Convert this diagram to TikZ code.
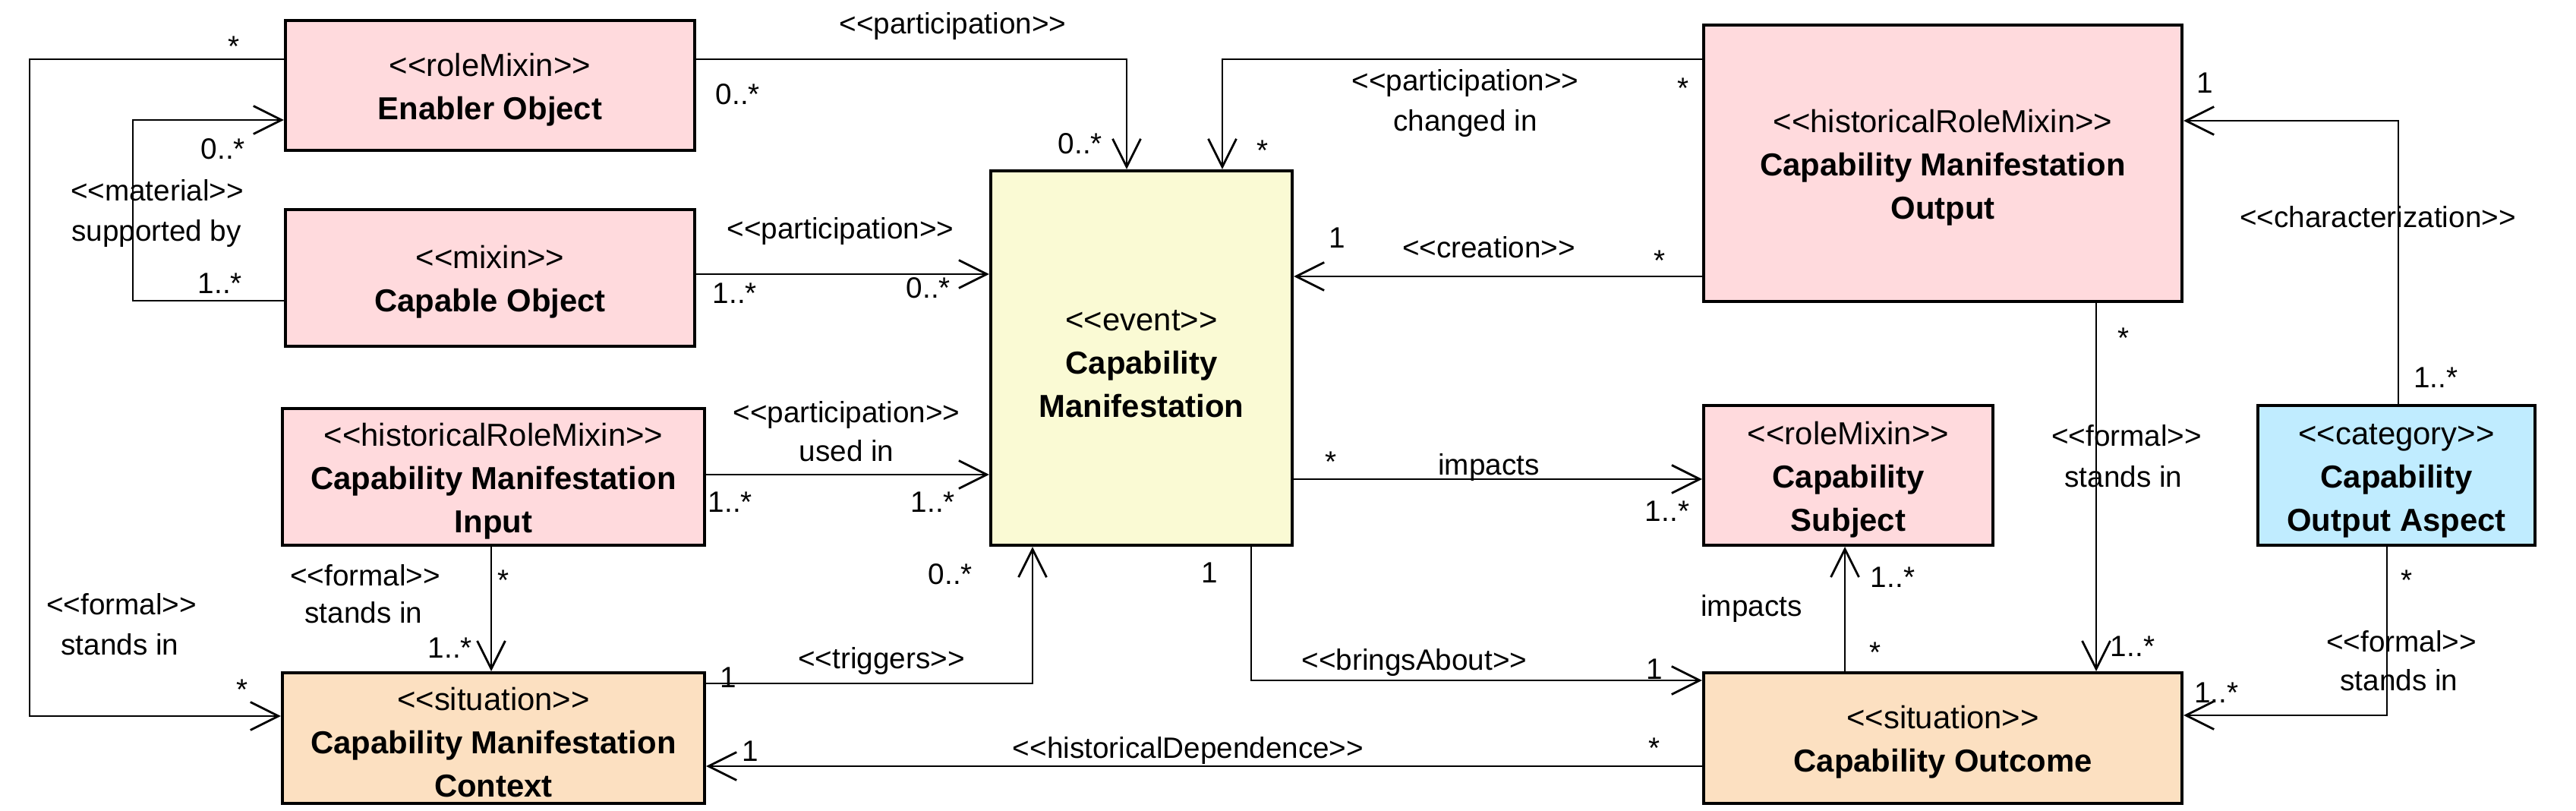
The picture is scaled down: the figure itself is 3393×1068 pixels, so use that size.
\documentclass[tikz,border=0pt]{standalone}
\usepackage{fontspec}
\setmainfont{Liberation Sans}[Ligatures=TeXOff]
\usetikzlibrary{arrows.meta}
\definecolor{rolepink}{RGB}{255,218,221}
\definecolor{eventyellow}{RGB}{250,250,212}
\definecolor{sitpeach}{RGB}{252,224,193}
\definecolor{catblue}{RGB}{192,236,255}
\newcommand\clsstrut{\rule{0pt}{11.8pt}}
\begin{document}
\begin{tikzpicture}[x=0.01cm,y=-0.01cm,
  cls/.style={draw=black, line width=1.1pt, inner sep=0pt, align=center,
    font=\fontsize{11.9pt}{16.2pt}\selectfont},
  lbl/.style={inner sep=0pt, font=\fontsize{11pt}{13pt}\selectfont,
    text height=0.72em, text depth=0.2em},
  assoc/.style={line width=0.8pt, -{Straight Barb[length=10.5pt,width=10.5pt]}}]
\useasboundingbox (0,0) rectangle (3393,1068);
\fill[white] (0,0) rectangle (3393,1068);

% classes
\node[cls, fill=rolepink, minimum width=5.39cm, minimum height=1.71cm] (enabler) at (645.5,112.5)
  {\clsstrut<<roleMixin>>\\\textbf{Enabler Object}};
\node[cls, fill=rolepink, minimum width=5.39cm, minimum height=1.80cm] (capable) at (645.5,366)
  {\clsstrut<<mixin>>\\\textbf{Capable Object}};
\node[cls, fill=rolepink, minimum width=5.56cm, minimum height=1.80cm] (input) at (650,628)
  {\clsstrut<<historicalRoleMixin>>\\\textbf{Capability Manifestation}\\\textbf{Input}};
\node[cls, fill=sitpeach, minimum width=5.56cm, minimum height=1.72cm] (context) at (650,972)
  {\clsstrut<<situation>>\\\textbf{Capability Manifestation}\\\textbf{Context}};
\node[cls, fill=eventyellow, minimum width=3.97cm, minimum height=4.93cm] (event) at (1503.5,471.5)
  {\clsstrut<<event>>\\\textbf{Capability}\\\textbf{Manifestation}};
\node[cls, fill=rolepink, minimum width=6.30cm, minimum height=3.64cm] (output) at (2559,215)
  {\clsstrut<<historicalRoleMixin>>\\\textbf{Capability Manifestation}\\\textbf{Output}};
\node[cls, fill=rolepink, minimum width=3.81cm, minimum height=1.84cm] (subject) at (2434.5,626)
  {\clsstrut<<roleMixin>>\\\textbf{Capability}\\\textbf{Subject}};
\node[cls, fill=catblue, minimum width=3.65cm, minimum height=1.84cm] (aspect) at (3156.5,626)
  {\clsstrut<<category>>\\\textbf{Capability}\\\textbf{Output Aspect}};
\node[cls, fill=sitpeach, minimum width=6.30cm, minimum height=1.72cm] (outcome) at (2559,972)
  {\clsstrut<<situation>>\\\textbf{Capability Outcome}};

% bend points and levels
\coordinate (b1) at (39,78);
\coordinate (b2) at (39,943);
\coordinate (m1) at (175,396);
\coordinate (m2) at (175,158);
\coordinate (p1) at (1484,78);
\coordinate (p2) at (1610,78);
\coordinate (t1) at (1360,900);
\coordinate (ba) at (1648,896);
\coordinate (ch) at (3159,159);
\coordinate (fa) at (3144,942);
\coordinate (kcap) at (1000,361);
\coordinate (kin) at (1000,625);
\coordinate (kcr) at (2000,364);
\coordinate (kim) at (2000,631);
\coordinate (khd) at (1500,1009);
\coordinate (kf1) at (647,0);
\coordinate (kim2) at (2430,0);
\coordinate (kf2) at (2761,0);

% connectors
\draw[assoc] (enabler.west |- b1) -- (b1) -- (b2) -- (context.west |- b2);
\draw[assoc] (capable.west |- m1) -- (m1) -- (m2) -- (enabler.west |- m2);
\draw[assoc] (enabler.east |- p1) -- (p1) -- (event.north -| p1);
\draw[assoc] (output.west |- p2) -- (p2) -- (event.north -| p2);
\draw[assoc] (capable.east |- kcap) -- (event.west |- kcap);
\draw[assoc] (input.east |- kin) -- (event.west |- kin);
\draw[assoc] (output.west |- kcr) -- (event.east |- kcr);
\draw[assoc] (event.east |- kim) -- (subject.west |- kim);
\draw[assoc] (outcome.west |- khd) -- (context.east |- khd);
\draw[assoc] (input.south -| kf1) -- (context.north -| kf1);
\draw[assoc] (outcome.north -| kim2) -- (subject.south -| kim2);
\draw[assoc] (output.south -| kf2) -- (outcome.north -| kf2);
\draw[assoc] (context.east |- t1) -- (t1) -- (event.south -| t1);
\draw[assoc] (event.south -| ba) -- (ba) -- (outcome.west |- ba);
\draw[assoc] (aspect.north -| ch) -- (ch) -- (output.east |- ch);
\draw[assoc] (aspect.south -| fa) -- (fa) -- (outcome.east |- fa);

% labels: top
\node[lbl] (s1) at (308,65) {*};
\node[lbl] (n1) at (972,128) {0..*};
\node[lbl] (a1) at (1255,35) {<<participation>>};
\node[lbl] (n2) at (1423,193) {0..*};
\node[lbl] (s2) at (1663,202) {*};
\node[lbl] (a2) at (1930,110) {<<participation>>};
\node[lbl] (a3) at (1930,163) {changed in};
\node[lbl] (s3) at (2217,120) {*};
\node[lbl] (n3) at (2904,113) {1};
\node[lbl] (a4) at (3132,290) {<<characterization>>};
\node[lbl] (n4) at (3208,501) {1..*};
\node[lbl] (n5) at (294,200) {0..*};
\node[lbl] (a5) at (207,255) {<<material>>};
\node[lbl] (a6) at (206,308) {supported by};
\node[lbl] (n6) at (290,377) {1..*};
\node[lbl] (a7) at (1107,305) {<<participation>>};
\node[lbl] (n7) at (968,390) {1..*};
\node[lbl] (n8) at (1223,383) {0..*};
\node[lbl] (n9) at (1761,317) {1};
\node[lbl] (a8) at (1961,330) {<<creation>>};
\node[lbl] (s4) at (2186,347) {*};
\node[lbl] (s5) at (2797,449) {*};
% labels: middle
\node[lbl] (a9) at (1115,547) {<<participation>>};
\node[lbl] (a10) at (1115,598) {used in};
\node[lbl] (n10) at (962,665) {1..*};
\node[lbl] (n11) at (1229,665) {1..*};
\node[lbl] (s6) at (1753,612) {*};
\node[lbl] (a11) at (1961,616) {impacts};
\node[lbl] (n12) at (2196,677) {1..*};
\node[lbl] (a12) at (2801,578) {<<formal>>};
\node[lbl] (a13) at (2797,632) {stands in};
\node[lbl] (s7) at (663,768) {*};
\node[lbl] (a14) at (481,762) {<<formal>>};
\node[lbl] (a15) at (479,811) {stands in};
\node[lbl] (n13) at (593,857) {1..*};
\node[lbl] (a16) at (160,800) {<<formal>>};
\node[lbl] (a17) at (158,853) {stands in};
\node[lbl] (s8) at (319,912) {*};
\node[lbl] (n14) at (1252,760) {0..*};
\node[lbl] (n15) at (1593,758) {1};
\node[lbl] (n16) at (2493,764) {1..*};
\node[lbl] (a18) at (2307,802) {impacts};
\node[lbl] (s9) at (2470,863) {*};
\node[lbl] (s10) at (3170,768) {*};
\node[lbl] (a19) at (3163,849) {<<formal>>};
\node[lbl] (a20) at (3160,900) {stands in};
\node[lbl] (n17) at (2919,916) {1..*};
\node[lbl] (n18) at (2809,855) {1..*};
% labels: bottom
\node[lbl] (n19) at (959,896) {1};
\node[lbl] (a21) at (1161,871) {<<triggers>>};
\node[lbl] (a22) at (1863,873) {<<bringsAbout>>};
\node[lbl] (n20) at (2179,885) {1};
\node[lbl] (n21) at (988,993) {1};
\node[lbl] (a23) at (1565,989) {<<historicalDependence>>};
\node[lbl] (s11) at (2179,989) {*};
\end{tikzpicture}
\end{document}
